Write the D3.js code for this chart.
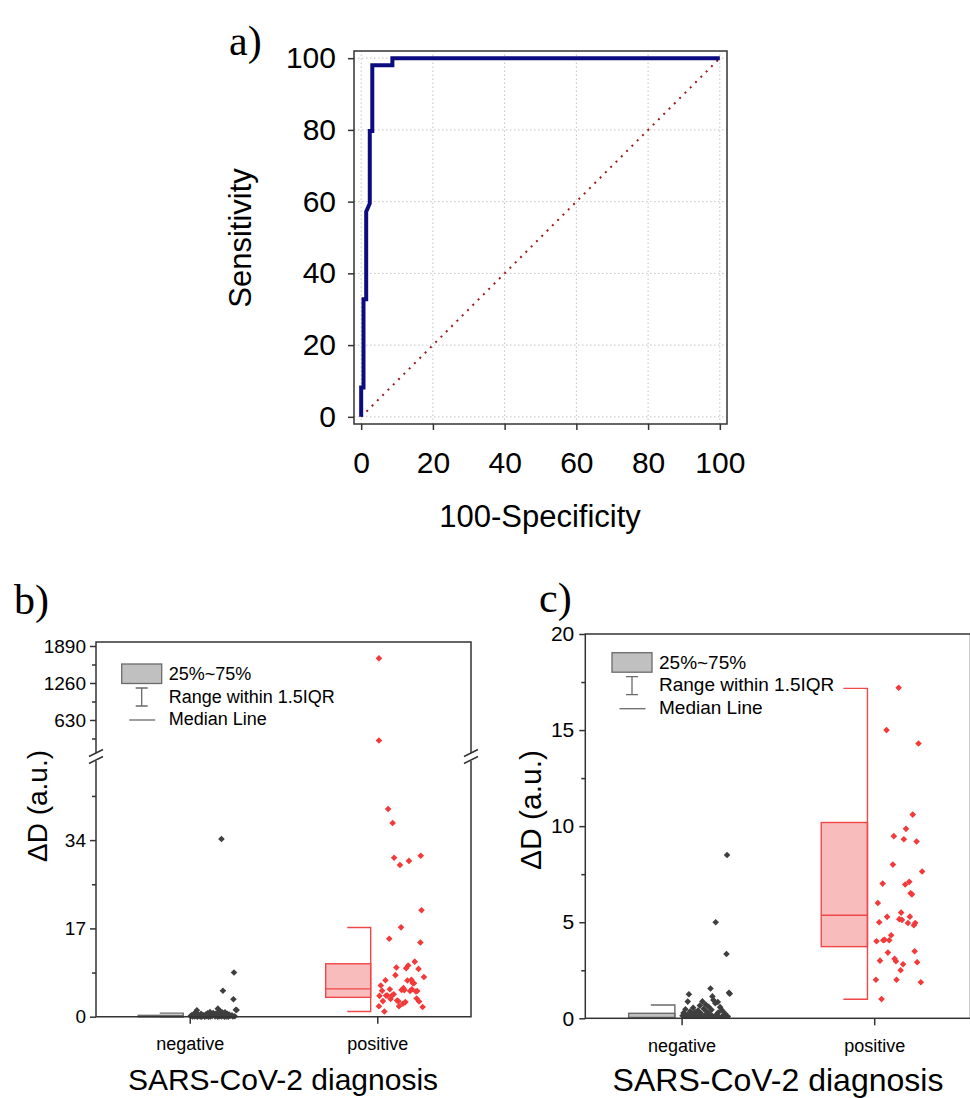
<!DOCTYPE html>
<html>
<head>
<meta charset="utf-8">
<script src="https://cdn.jsdelivr.net/npm/d3@7"></script>
<style>
  body { margin: 0; background: #fff; }
  text { font-family: "Liberation Sans", Arial, sans-serif; fill: #000; }
  .plabel { font-family: "Liberation Serif", "Times New Roman", serif; }
</style>
</head>
<body>
<script>
// ROC curve, panel a (step points)
let rocFpr = [0, 0, 0.65, 0.65, 1.4, 1.4, 2.4, 2.4, 3.1, 3.1, 8.7, 8.7, 100]
let rocTpr = [0, 8.2, 8.2, 32.8, 32.8, 57.2, 59.5, 79.7, 79.7, 98, 98, 100, 100]
let rocTicks = [0, 20, 40, 60, 80, 100]

// box statistics, panels b and c
let groups = ["negative", "positive"]
let boxQ1 = [0.0, 3.73]
let boxMedian = [0.05, 5.36]
let boxQ3 = [0.26, 10.19]
let whiskLow = [0.0, 0.99]
let whiskHigh = [0.69, 17.17]

// raw points; jitter is the horizontal offset in category units
let negValues = [34.2, 8.5, 5.0, 3.35, 1.55, 1.25, 1.33, 1.28, 1.14, 0.87, 0.85, 0.88, 0.95, 0.78, 0.72,
  0.66, 0.60, 0.55, 0.58, 0.50, 0.47, 0.44, 0.40, 0.42, 0.37, 0.35, 0.32, 0.30, 0.28, 0.26, 0.25, 0.23,
  0.21, 0.20, 0.18, 0.17, 0.15, 0.14, 0.13, 0.12, 0.10, 0.09, 0.08, 0.07, 0.06, 0.06, 0.05, 0.04, 0.04,
  0.03, 0.03, 0.02, 0.02, 0.01, 0.01, 0.0, 0.0, 0.0]
let negJitter = [0.169, 0.236, 0.177, 0.233, 0.150, 0.038, 0.246, 0.250, 0.160, 0.032, 0.188, 0.108, 0.165,
  0.175, 0.125, 0.095, 0.140, 0.060, 0.200, 0.115, 0.020, 0.155, 0.085, 0.210, 0.045, 0.130, 0.070, 0.190,
  0.010, 0.100, 0.225, 0.055, 0.145, 0.030, 0.180, 0.075, 0.215, 0.120, 0.005, 0.160, 0.090, 0.240, 0.050,
  0.135, 0.015, 0.195, 0.110, 0.065, 0.230, 0.025, 0.170, 0.080, 0.205, 0.040, 0.150, 0.100, 0.185, 0.060]
let posValues = [1680, 280, 40.0, 37.3, 31.0, 30.6, 30.0, 29.2, 20.5, 17.2, 15.0, 14.3, 10.6, 9.86, 9.48,
  9.32, 9.2, 8.0, 7.64, 7.1, 7.01, 6.96, 6.51, 6.45, 6.0, 5.5, 5.29, 5.28, 5.16, 5.12, 5.0, 4.96, 4.96,
  4.84, 4.32, 4.09, 4.06, 4.06, 4.01, 3.49, 3.42, 3.1, 3.0, 2.97, 2.92, 2.81, 2.5, 2.01, 2.01, 1.88, 1.0]
let posJitter = [0.009, 0.009, 0.058, 0.082, 0.232, 0.090, 0.169, 0.121, 0.236, 0.127, 0.064, 0.230, 0.200,
  0.165, 0.102, 0.154, 0.220, 0.097, 0.249, 0.182, 0.044, 0.161, 0.189, 0.196, 0.019, 0.140, 0.185, 0.067,
  0.130, 0.144, 0.026, 0.175, 0.213, 0.206, 0.088, 0.054, 0.047, 0.078, 0.012, 0.210, 0.071, 0.106, 0.030,
  0.113, 0.223, 0.150, 0.137, 0.009, 0.116, 0.242, 0.038]

// tick values
let bLowTicks = [0, 17, 34], bLowMinor = [8.5, 25.5, 42.5]
let bHighTicks = [630, 1260, 1890], bHighMinor = [315, 945, 1575]
let cTicks = [0, 5, 10, 15, 20], cMinor = [2.5, 7.5, 12.5, 17.5]
let legendLabels = ["25%~75%", "Range within 1.5IQR", "Median Line"]

let width = 970, height = 1098
let frameColor = "#333"

let svg = d3.select("body").append("svg")
  .attr("width", width)
  .attr("height", height)

// ---------------- panel a ----------------
let ax = d3.scaleLinear().domain([-2, 102]).range([354, 727])
let ay = d3.scaleLinear().domain([-2, 102]).range([424, 51])
let ga = svg.append("g")

ga.selectAll(".gridx").data(rocTicks).enter().append("line")
  .attr("x1", d => ax(d)).attr("x2", d => ax(d))
  .attr("y1", ay(-2)).attr("y2", ay(102))
  .attr("stroke", "#c4c4c4").attr("stroke-dasharray", "1.5,2.5")
ga.selectAll(".gridy").data(rocTicks).enter().append("line")
  .attr("y1", d => ay(d)).attr("y2", d => ay(d))
  .attr("x1", ax(-2)).attr("x2", ax(102))
  .attr("stroke", "#c4c4c4").attr("stroke-dasharray", "1.5,2.5")

// chance line
ga.append("line")
  .attr("x1", ax(0)).attr("y1", ay(0)).attr("x2", ax(100)).attr("y2", ay(100))
  .attr("stroke", "#9b1c1c").attr("stroke-width", 2).attr("stroke-dasharray", "2,5.5")

let rocLine = d3.line().x((d, i) => ax(rocFpr[i])).y((d, i) => ay(rocTpr[i]))
ga.append("path").datum(rocFpr)
  .attr("d", rocLine)
  .attr("fill", "none").attr("stroke", "#0c0c80").attr("stroke-width", 4)

ga.append("rect")
  .attr("x", ax(-2)).attr("y", ay(102))
  .attr("width", ax(102) - ax(-2)).attr("height", ay(-2) - ay(102))
  .attr("fill", "none").attr("stroke", frameColor).attr("stroke-width", 1.5)

function styleAxis(g, size) {
  g.select(".domain").remove()
  g.selectAll(".tick line").attr("stroke", frameColor).attr("stroke-width", 1.5)
  g.selectAll(".tick text").attr("font-size", size).attr("font-family", "Liberation Sans, Arial, sans-serif").attr("fill", "#000")
}

ga.append("g").attr("transform", `translate(0,${ay(-2)})`)
  .call(d3.axisBottom(ax).tickValues(rocTicks).tickSize(6).tickPadding(22))
  .call(g => styleAxis(g, 30))
ga.append("g").attr("transform", `translate(${ax(-2)},0)`)
  .call(d3.axisLeft(ay).tickValues(rocTicks).tickSize(6).tickPadding(12))
  .call(g => styleAxis(g, 30))

ga.append("text").attr("x", 540).attr("y", 527).attr("text-anchor", "middle")
  .attr("font-size", 31).text("100-Specificity")
ga.append("text").attr("transform", "translate(251,238) rotate(-90)").attr("text-anchor", "middle")
  .attr("font-size", 31).text("Sensitivity")
ga.append("text").attr("class", "plabel").attr("x", 229).attr("y", 55).attr("font-size", 42).text("a)")

// ---------------- box panels ----------------
let diamond = r => `M0,${-r}L${r},0L0,${r}L${-r},0Z`
let fills = ["#c0c0c0", "#f9bcbc"]
let strokes = ["#6a6a6a", "#f04848"]
let dotColors = ["#3f3f3f", "#f23a3a"]
let intFmt = d3.format("d")

function drawBoxes(g, x, yv) {
  groups.forEach((name, i) => {
    let c = i + 1
    let xl = x(c - 0.275), xr = x(c - 0.035), xc = x(c - 0.16)
    g.append("rect")
      .attr("x", xl).attr("y", yv(boxQ3[i]))
      .attr("width", xr - xl).attr("height", Math.max(0.5, yv(boxQ1[i]) - yv(boxQ3[i])))
      .attr("fill", fills[i]).attr("stroke", strokes[i]).attr("stroke-width", 1.4)
    g.append("line").attr("x1", xl).attr("x2", xr)
      .attr("y1", yv(boxMedian[i])).attr("y2", yv(boxMedian[i]))
      .attr("stroke", strokes[i]).attr("stroke-width", 1.4)
    g.append("path")
      .attr("d", `M${xc},${yv(whiskHigh[i])}H${xr}V${yv(whiskLow[i])}H${xc}`)
      .attr("fill", "none").attr("stroke", strokes[i]).attr("stroke-width", 1.4)
  })
}

function drawPoints(g, x, yv, r) {
  let sets = [[negValues, negJitter], [posValues, posJitter]]
  sets.forEach((s, i) => {
    g.selectAll(".p" + i).data(s[0]).enter().append("path")
      .attr("d", diamond(r))
      .attr("transform", (d, k) => `translate(${x(i + 1 + s[1][k])},${yv(d)})`)
      .attr("fill", dotColors[i])
  })
}

function drawLegend(g, x0, y0, fs) {
  // x0,y0: top-left of the grey legend box
  g.append("rect").attr("x", x0).attr("y", y0).attr("width", 40).attr("height", 19.5)
    .attr("fill", "#c0c0c0").attr("stroke", "#6a6a6a").attr("stroke-width", 1.3)
  let cx = x0 + 20
  g.append("path").attr("d", `M${cx - 6},${y0 + 24}H${cx + 6}M${cx},${y0 + 24}V${y0 + 42}M${cx - 6},${y0 + 42}H${cx + 6}`)
    .attr("stroke", "#6a6a6a").attr("stroke-width", 1.3).attr("fill", "none")
  g.append("line").attr("x1", x0 + 7.5).attr("x2", x0 + 33.5).attr("y1", y0 + 56).attr("y2", y0 + 56)
    .attr("stroke", "#6a6a6a").attr("stroke-width", 1.3)
  legendLabels.forEach((t, k) => {
    g.append("text").attr("x", x0 + 47).attr("y", y0 + 16 + k * 22.5).attr("font-size", fs).text(t)
  })
}

// ---------------- panel b (broken axis) ----------------
let bLeft = 96, bRight = 471, bTop = 642, bBottom = 1016.7, bBreak = 757
let bx = d3.scaleLinear().domain([0.5, 2.5]).range([bLeft, bRight])
let byLow = d3.scaleLinear().domain([0, 50]).range([bBottom, bBreak])
let byHigh = d3.scaleLinear().domain([0, 1958]).range([bBreak, bTop])
let by = v => v <= 50 ? byLow(v) : byHigh(v)
let gb = svg.append("g")

drawBoxes(gb, bx, by)
drawPoints(gb, bx, by, 3.3)

// frame with gaps at the break
gb.append("path")
  .attr("d", `M${bLeft},${bBreak + 4}V${bBottom}H${bRight}V${bBreak + 4}M${bLeft},${bBreak - 4}V${bTop}H${bRight}V${bBreak - 4}`)
  .attr("fill", "none").attr("stroke", frameColor).attr("stroke-width", 1.5)
;[bLeft, bRight].forEach(xx => {
  gb.append("path")
    .attr("d", `M${xx - 7},${bBreak - 0.5}L${xx + 7},${bBreak - 7.5}M${xx - 7},${bBreak + 6.5}L${xx + 7},${bBreak - 0.5}`)
    .attr("stroke", frameColor).attr("stroke-width", 1.5)
})

gb.append("g").attr("transform", `translate(${bLeft},0)`)
  .call(d3.axisLeft(byLow).tickValues(bLowTicks).tickSize(6).tickPadding(4).tickFormat(intFmt))
  .call(g => styleAxis(g, 19))
gb.append("g").attr("transform", `translate(${bLeft},0)`)
  .call(d3.axisLeft(byLow).tickValues(bLowMinor).tickSize(4).tickFormat(""))
  .call(g => styleAxis(g, 19))
gb.append("g").attr("transform", `translate(${bLeft},0)`)
  .call(d3.axisLeft(byHigh).tickValues(bHighTicks).tickSize(6).tickPadding(4).tickFormat(intFmt))
  .call(g => styleAxis(g, 19))
gb.append("g").attr("transform", `translate(${bLeft},0)`)
  .call(d3.axisLeft(byHigh).tickValues(bHighMinor).tickSize(4).tickFormat(""))
  .call(g => styleAxis(g, 19))
gb.append("g").attr("transform", `translate(0,${bBottom})`)
  .call(d3.axisBottom(bx).tickValues([1, 2]).tickSize(7).tickPadding(14).tickFormat((d, i) => groups[i]))
  .call(g => styleAxis(g, 18))

drawLegend(gb, 121.7, 664, 18)
gb.append("text").attr("x", 283).attr("y", 1090).attr("text-anchor", "middle").attr("font-size", 30)
  .text("SARS-CoV-2 diagnosis")
gb.append("text").attr("transform", "translate(47,806) rotate(-90)").attr("text-anchor", "middle")
  .attr("font-size", 28).text("ΔD (a.u.)")
gb.append("text").attr("class", "plabel").attr("x", 14).attr("y", 614).attr("font-size", 42).text("b)")

// ---------------- panel c ----------------
let cLeft = 585.3, cRight = 970.5, cTop = 634, cBottom = 1018.3
let cx = d3.scaleLinear().domain([0.5, 2.5]).range([cLeft, cRight])
let cy = d3.scaleLinear().domain([0, 20]).range([cBottom, cTop])
let gc = svg.append("g")

svg.append("clipPath").attr("id", "clipc").append("rect")
  .attr("x", cLeft).attr("y", cTop).attr("width", cRight - cLeft).attr("height", cBottom - cTop)
let gcPlot = gc.append("g").attr("clip-path", "url(#clipc)")
drawBoxes(gcPlot, cx, cy)
drawPoints(gcPlot, cx, cy, 3.3)

gc.append("rect").attr("x", cLeft).attr("y", cTop)
  .attr("width", cRight - cLeft).attr("height", cBottom - cTop)
  .attr("fill", "none").attr("stroke", frameColor).attr("stroke-width", 1.5)
gc.append("g").attr("transform", `translate(${cLeft},0)`)
  .call(d3.axisLeft(cy).tickValues(cTicks).tickSize(6).tickPadding(5))
  .call(g => styleAxis(g, 21))
gc.append("g").attr("transform", `translate(${cLeft},0)`)
  .call(d3.axisLeft(cy).tickValues(cMinor).tickSize(4).tickFormat(""))
  .call(g => styleAxis(g, 21))
gc.append("g").attr("transform", `translate(0,${cBottom})`)
  .call(d3.axisBottom(cx).tickValues([1, 2]).tickSize(7).tickPadding(14).tickFormat((d, i) => groups[i]))
  .call(g => styleAxis(g, 18))

drawLegend(gc, 612, 652.7, 19)
gc.append("text").attr("x", 778).attr("y", 1091).attr("text-anchor", "middle").attr("font-size", 32)
  .text("SARS-CoV-2 diagnosis")
gc.append("text").attr("transform", "translate(541,810) rotate(-90)").attr("text-anchor", "middle")
  .attr("font-size", 30).text("ΔD (a.u.)")
gc.append("text").attr("class", "plabel").attr("x", 539).attr("y", 612).attr("font-size", 42).text("c)")
</script>
</body>
</html>
